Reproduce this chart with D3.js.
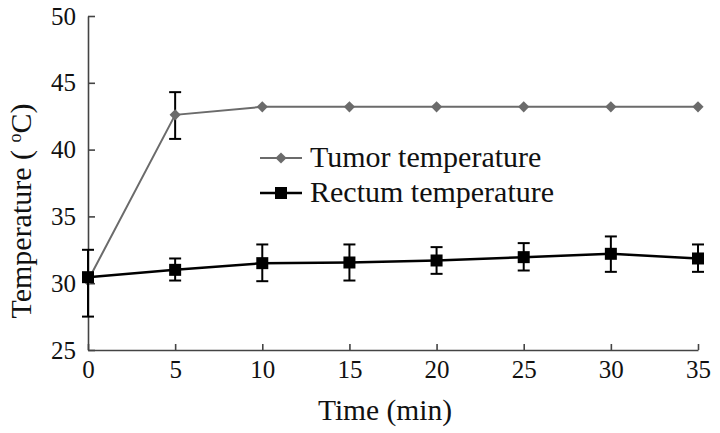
<!DOCTYPE html>
<html>
<head>
<meta charset="utf-8">
<script src="https://cdn.jsdelivr.net/npm/d3@7"></script>
<style>
  body { margin: 0; background: #fff; }
  svg text { font-family: "Liberation Serif", "Times New Roman", serif; fill: #111; }
</style>
</head>
<body>
<svg id="chart" width="720" height="433"></svg>
<script>
const times = [0, 5, 10, 15, 20, 25, 30, 35]
const tumorMean = [30.2, 42.6, 43.2, 43.2, 43.2, 43.2, 43.2, 43.2]
const tumorLow = [null, 40.8, null, null, null, null, null, null]
const tumorHigh = [null, 44.3, null, null, null, null, null, null]
const rectumMean = [30.45, 31.0, 31.5, 31.55, 31.7, 31.95, 32.2, 31.85]
const rectumLow = [27.5, 30.2, 30.15, 30.2, 30.7, 30.95, 30.85, 30.85]
const rectumHigh = [32.5, 31.85, 32.9, 32.9, 32.7, 33.0, 33.5, 32.9]
const xTicks = [0, 5, 10, 15, 20, 25, 30, 35]
const yTicks = [25, 30, 35, 40, 45, 50]
const seriesNames = ["Tumor temperature", "Rectum temperature"]

const svg = d3.select("#chart")

const x = d3.scaleLinear().domain([0, 35]).range([88, 698])
const y = d3.scaleLinear().domain([25, 50]).range([350, 16])

// axes, ticks point inward
const xAxis = svg.append("g")
  .attr("transform", `translate(0, ${y(25)})`)
  .call(d3.axisBottom(x).tickValues(xTicks).tickSize(-6).tickSizeOuter(0).tickPadding(10))
xAxis.selectAll("text").attr("font-size", 25)

const yAxis = svg.append("g")
  .attr("transform", `translate(${x(0)}, 0)`)
  .call(d3.axisLeft(y).tickValues(yTicks).tickSize(-7).tickSizeOuter(0).tickPadding(12))
yAxis.selectAll("text").attr("font-size", 25)

svg.selectAll(".domain, .tick line").attr("stroke", "#444").attr("stroke-width", 1.6)

// axis titles
svg.append("text")
  .attr("x", 385).attr("y", 420)
  .attr("text-anchor", "middle")
  .attr("font-size", 29.5)
  .text("Time (min)")

const yTitle = svg.append("text")
  .attr("transform", "translate(31, 211) rotate(-90)")
  .attr("text-anchor", "middle")
  .attr("font-size", 30)
yTitle.append("tspan").text("Temperature ( ")
yTitle.append("tspan").attr("font-size", 18).attr("dy", -10).text("o")
yTitle.append("tspan").attr("dy", 10).text("C)")

const tumor = times.map((t, i) => ({t, m: tumorMean[i], lo: tumorLow[i], hi: tumorHigh[i]}))
const rectum = times.map((t, i) => ({t, m: rectumMean[i], lo: rectumLow[i], hi: rectumHigh[i]}))

const line = d3.line().x(d => x(d.t)).y(d => y(d.m))

function errorBars(data) {
  const g = svg.append("g").attr("stroke", "#000").attr("stroke-width", 2)
  const withErr = data.filter(d => d.lo != null)
  g.selectAll("line.v").data(withErr).join("line")
    .attr("x1", d => x(d.t)).attr("x2", d => x(d.t))
    .attr("y1", d => y(d.lo)).attr("y2", d => y(d.hi))
  g.selectAll("line.lo").data(withErr).join("line")
    .attr("x1", d => x(d.t) - 6).attr("x2", d => x(d.t) + 6)
    .attr("y1", d => y(d.lo)).attr("y2", d => y(d.lo))
  g.selectAll("line.hi").data(withErr).join("line")
    .attr("x1", d => x(d.t) - 6).attr("x2", d => x(d.t) + 6)
    .attr("y1", d => y(d.hi)).attr("y2", d => y(d.hi))
}

// tumor series
svg.append("path").datum(tumor)
  .attr("fill", "none").attr("stroke", "#6b6b6b").attr("stroke-width", 2)
  .attr("d", line)
errorBars(tumor)
const diamond = d3.symbol().type(d3.symbolDiamond2).size(80)
svg.append("g").selectAll("path").data(tumor).join("path")
  .attr("transform", d => `translate(${x(d.t)}, ${y(d.m)})`)
  .attr("d", diamond)
  .attr("fill", "#6b6b6b")

// rectum series
svg.append("path").datum(rectum)
  .attr("fill", "none").attr("stroke", "#000").attr("stroke-width", 2.5)
  .attr("d", line)
errorBars(rectum)
svg.append("g").selectAll("rect").data(rectum).join("rect")
  .attr("x", d => x(d.t) - 6).attr("y", d => y(d.m) - 6)
  .attr("width", 12).attr("height", 12)
  .attr("fill", "#000")

// legend
const legend = svg.append("g")
const legY = [158, 193]
legend.append("line").attr("x1", 260).attr("x2", 302).attr("y1", legY[0]).attr("y2", legY[0])
  .attr("stroke", "#6b6b6b").attr("stroke-width", 2)
legend.append("path").attr("transform", `translate(281, ${legY[0]})`).attr("d", diamond).attr("fill", "#6b6b6b")
legend.append("line").attr("x1", 260).attr("x2", 302).attr("y1", legY[1]).attr("y2", legY[1])
  .attr("stroke", "#000").attr("stroke-width", 2.5)
legend.append("rect").attr("x", 275).attr("y", legY[1] - 6).attr("width", 12).attr("height", 12).attr("fill", "#000")
legend.selectAll("text").data(seriesNames).join("text")
  .attr("x", 310).attr("y", (d, i) => legY[i] + 9)
  .attr("font-size", 30)
  .text(d => d)
</script>
</body>
</html>
